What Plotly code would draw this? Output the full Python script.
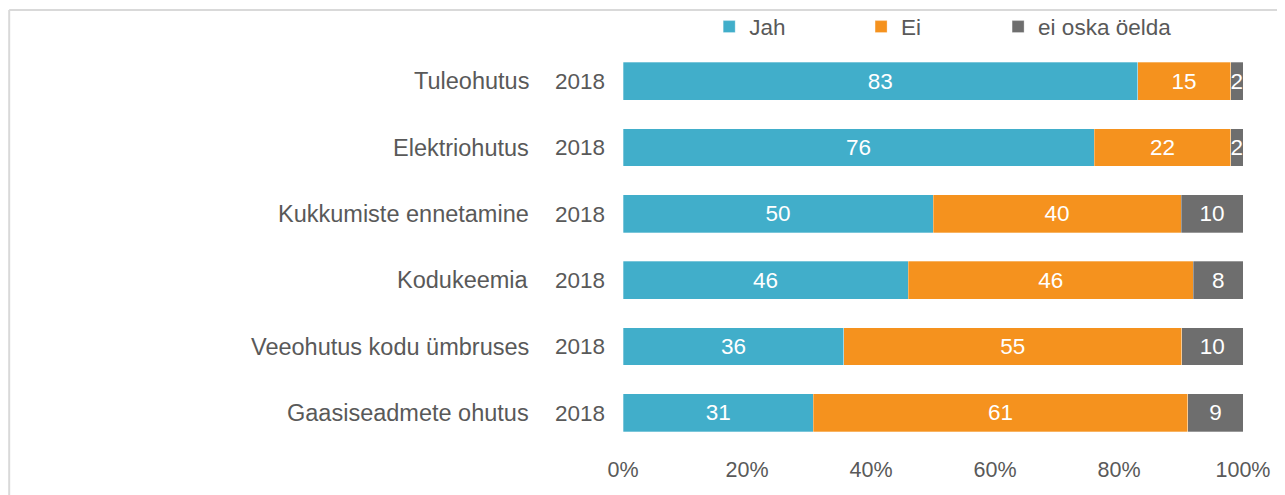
import plotly.graph_objects as go

categories = ["Tuleohutus", "Elektriohutus", "Kukkumiste ennetamine", "Kodukeemia",
              "Veeohutus kodu ümbruses", "Gaasiseadmete ohutus"]
year_labels = ["2018"] * 6
series_names = ["Jah", "Ei", "ei oska öelda"]
jah = [83, 76, 50, 46, 36, 31]
ei = [15, 22, 40, 46, 55, 61]
ei_oska = [2, 2, 10, 8, 10, 9]
x_ticks = [0, 20, 40, 60, 80, 100]
x_tick_labels = ["0%", "20%", "40%", "60%", "80%", "100%"]

colors = ["#41AECA", "#F5921E", "#6E6E6E"]
FONT = "Liberation Sans, Arial, sans-serif"
GRAY = "#595959"
FS_NAME = 23.5
FS = 22.5
FS_TICK = 21.5

legend_ids = ["legend", "legend2", "legend3"]
legend_x = [0.139, 0.384, 0.605]

fig = go.Figure()
for name, vals, col, lg in zip(series_names, [jah, ei, ei_oska], colors, legend_ids):
    fig.add_trace(go.Bar(
        y=categories, x=vals, name=name, orientation="h", legend=lg,
        marker=dict(color=col, line=dict(color="rgba(255,255,255,0.6)", width=0.5)),
        text=[str(v) for v in vals], textposition="inside",
        insidetextanchor="middle", constraintext="none",
        textfont=dict(color="white", size=FS, family=FONT),
        hoverinfo="skip",
    ))

for c in categories:
    fig.add_annotation(x=-0.148, xref="paper", y=c, yref="y", text=c,
                       showarrow=False, xanchor="right", yanchor="middle", yshift=0,
                       font=dict(size=FS_NAME, color=GRAY, family=FONT))

legend_common = dict(orientation="h", xanchor="left", y=1.0528, yanchor="middle",
                     font=dict(size=FS, color=GRAY, family=FONT),
                     itemclick=False, itemdoubleclick=False, bgcolor="rgba(0,0,0,0)")

fig.update_layout(
    barmode="stack", barnorm="percent", bargap=0.43,
    width=1285, height=495,
    margin=dict(l=615, r=50, t=40, b=57, autoexpand=False),
    paper_bgcolor="white", plot_bgcolor="white",
    font=dict(family=FONT, color=GRAY, size=FS),
    showlegend=True,
    legend=dict(x=legend_x[0], **legend_common),
    legend2=dict(x=legend_x[1], **legend_common),
    legend3=dict(x=legend_x[2], **legend_common),
    xaxis=dict(range=[0, 100], tickvals=x_ticks, ticktext=x_tick_labels, showgrid=False,
               zeroline=False, showline=False, ticks="", fixedrange=True,
               ticklabelstandoff=8,
               tickfont=dict(size=FS_TICK, color=GRAY, family=FONT)),
    yaxis=dict(type="category", autorange="reversed", tickvals=categories,
               ticktext=year_labels, showgrid=False, zeroline=False, showline=False,
               ticks="", ticklabelstandoff=17, fixedrange=True,
               tickfont=dict(size=FS, color=GRAY, family=FONT)),
    shapes=[
        dict(type="line", xref="paper", yref="paper", x0=-0.99, x1=1.2, y0=1.0955, y1=1.0955,
             line=dict(color="#D9D9D9", width=2)),
        dict(type="line", xref="paper", yref="paper", x0=-0.99, x1=-0.99, y0=1.0955, y1=-0.2,
             line=dict(color="#D9D9D9", width=2)),
    ],
)

fig.write_html("out.html")
